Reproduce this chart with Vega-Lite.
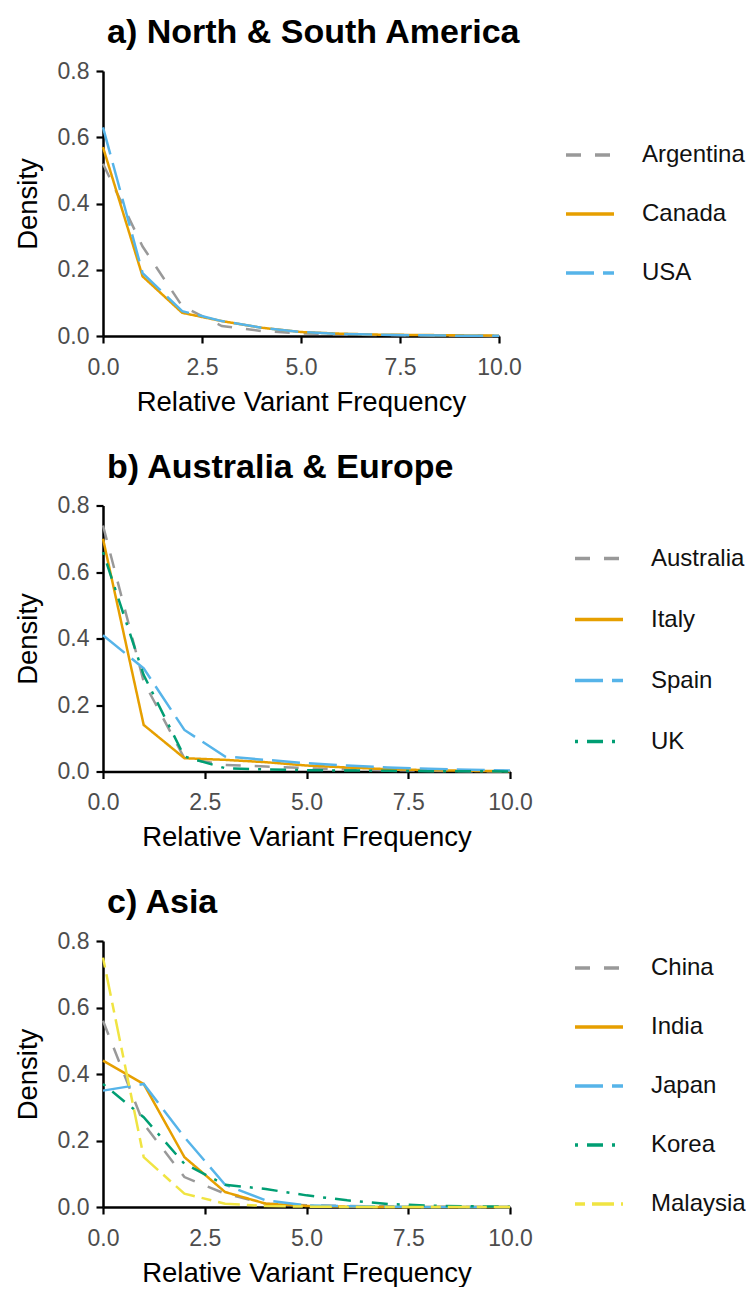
{
  "$schema": "https://vega.github.io/schema/vega-lite/v6.json",
  "background": "white",
  "padding": {"left": 14, "top": 16, "right": 0, "bottom": 0},
  "config": {
    "font": "Liberation Sans",
    "view": {"stroke": null},
    "title": {"font": "Liberation Sans", "fontSize": 34, "fontWeight": "bold", "anchor": "start", "frame": "group", "color": "#000000", "offset": 10, "dx": 4, "baseline": "alphabetic"},
    "axis": {
      "grid": false,
      "labelFlush": false,
      "domainColor": "#000000", "domainWidth": 2.5,
      "tickColor": "#000000", "tickWidth": 2.2, "tickSize": 7,
      "labelColor": "#4d4d4d", "labelFont": "Liberation Sans", "labelFontSize": 23,
      "titleFont": "Liberation Sans", "titleFontSize": 27.5, "titleFontWeight": "normal", "titleColor": "#000000"
    },
    "axisX": {"labelPadding": 13, "titlePadding": 9},
    "axisY": {"labelPadding": 7, "titlePadding": 15},
    "legend": {"labelFont": "Liberation Sans", "labelFontSize": 24, "labelColor": "#111111", "symbolSize": 2304, "symbolStrokeWidth": 3.5, "labelOffset": 26, "padding": 0, "symbolType": "stroke"}
  },
  "datasets": {
    "america": [
      {"country": "Argentina", "x": 0, "density": 0.52}, {"country": "Argentina", "x": 1, "density": 0.27}, {"country": "Argentina", "x": 2, "density": 0.09}, {"country": "Argentina", "x": 3, "density": 0.03}, {"country": "Argentina", "x": 4, "density": 0.015}, {"country": "Argentina", "x": 5, "density": 0.008}, {"country": "Argentina", "x": 6, "density": 0.005}, {"country": "Argentina", "x": 7, "density": 0.003}, {"country": "Argentina", "x": 8, "density": 0.002}, {"country": "Argentina", "x": 9, "density": 0.001}, {"country": "Argentina", "x": 10, "density": 0.0},
      {"country": "Canada", "x": 0, "density": 0.57}, {"country": "Canada", "x": 1, "density": 0.18}, {"country": "Canada", "x": 2, "density": 0.07}, {"country": "Canada", "x": 3, "density": 0.045}, {"country": "Canada", "x": 4, "density": 0.025}, {"country": "Canada", "x": 5, "density": 0.012}, {"country": "Canada", "x": 6, "density": 0.007}, {"country": "Canada", "x": 7, "density": 0.004}, {"country": "Canada", "x": 8, "density": 0.003}, {"country": "Canada", "x": 9, "density": 0.002}, {"country": "Canada", "x": 10, "density": 0.001},
      {"country": "USA", "x": 0, "density": 0.63}, {"country": "USA", "x": 1, "density": 0.19}, {"country": "USA", "x": 2, "density": 0.075}, {"country": "USA", "x": 3, "density": 0.045}, {"country": "USA", "x": 4, "density": 0.025}, {"country": "USA", "x": 5, "density": 0.012}, {"country": "USA", "x": 6, "density": 0.006}, {"country": "USA", "x": 7, "density": 0.004}, {"country": "USA", "x": 8, "density": 0.002}, {"country": "USA", "x": 9, "density": 0.001}, {"country": "USA", "x": 10, "density": 0.001}
    ],
    "europe": [
      {"country": "Australia", "x": 0, "density": 0.74}, {"country": "Australia", "x": 1, "density": 0.27}, {"country": "Australia", "x": 2, "density": 0.04}, {"country": "Australia", "x": 3, "density": 0.02}, {"country": "Australia", "x": 4, "density": 0.015}, {"country": "Australia", "x": 5, "density": 0.01}, {"country": "Australia", "x": 6, "density": 0.006}, {"country": "Australia", "x": 7, "density": 0.004}, {"country": "Australia", "x": 8, "density": 0.002}, {"country": "Australia", "x": 9, "density": 0.001}, {"country": "Australia", "x": 10, "density": 0.0},
      {"country": "Italy", "x": 0, "density": 0.70}, {"country": "Italy", "x": 1, "density": 0.14}, {"country": "Italy", "x": 2, "density": 0.04}, {"country": "Italy", "x": 3, "density": 0.035}, {"country": "Italy", "x": 4, "density": 0.028}, {"country": "Italy", "x": 5, "density": 0.018}, {"country": "Italy", "x": 6, "density": 0.012}, {"country": "Italy", "x": 7, "density": 0.007}, {"country": "Italy", "x": 8, "density": 0.004}, {"country": "Italy", "x": 9, "density": 0.002}, {"country": "Italy", "x": 10, "density": 0.001},
      {"country": "Spain", "x": 0, "density": 0.41}, {"country": "Spain", "x": 1, "density": 0.31}, {"country": "Spain", "x": 2, "density": 0.125}, {"country": "Spain", "x": 3, "density": 0.045}, {"country": "Spain", "x": 4, "density": 0.035}, {"country": "Spain", "x": 5, "density": 0.025}, {"country": "Spain", "x": 6, "density": 0.018}, {"country": "Spain", "x": 7, "density": 0.012}, {"country": "Spain", "x": 8, "density": 0.008}, {"country": "Spain", "x": 9, "density": 0.005}, {"country": "Spain", "x": 10, "density": 0.003},
      {"country": "UK", "x": 0, "density": 0.66}, {"country": "UK", "x": 1, "density": 0.29}, {"country": "UK", "x": 2, "density": 0.045}, {"country": "UK", "x": 3, "density": 0.01}, {"country": "UK", "x": 4, "density": 0.006}, {"country": "UK", "x": 5, "density": 0.004}, {"country": "UK", "x": 6, "density": 0.003}, {"country": "UK", "x": 7, "density": 0.002}, {"country": "UK", "x": 8, "density": 0.001}, {"country": "UK", "x": 9, "density": 0.001}, {"country": "UK", "x": 10, "density": 0.0}
    ],
    "asia": [
      {"country": "China", "x": 0, "density": 0.56}, {"country": "China", "x": 1, "density": 0.25}, {"country": "China", "x": 2, "density": 0.09}, {"country": "China", "x": 3, "density": 0.04}, {"country": "China", "x": 4, "density": 0.01}, {"country": "China", "x": 5, "density": 0.005}, {"country": "China", "x": 6, "density": 0.003}, {"country": "China", "x": 7, "density": 0.002}, {"country": "China", "x": 8, "density": 0.001}, {"country": "China", "x": 9, "density": 0.0}, {"country": "China", "x": 10, "density": 0.0},
      {"country": "India", "x": 0, "density": 0.44}, {"country": "India", "x": 1, "density": 0.37}, {"country": "India", "x": 2, "density": 0.15}, {"country": "India", "x": 3, "density": 0.045}, {"country": "India", "x": 4, "density": 0.01}, {"country": "India", "x": 5, "density": 0.003}, {"country": "India", "x": 6, "density": 0.001}, {"country": "India", "x": 7, "density": 0.0}, {"country": "India", "x": 8, "density": 0.0}, {"country": "India", "x": 9, "density": 0.0}, {"country": "India", "x": 10, "density": 0.0},
      {"country": "Japan", "x": 0, "density": 0.35}, {"country": "Japan", "x": 1, "density": 0.37}, {"country": "Japan", "x": 2, "density": 0.21}, {"country": "Japan", "x": 3, "density": 0.067}, {"country": "Japan", "x": 4, "density": 0.02}, {"country": "Japan", "x": 5, "density": 0.005}, {"country": "Japan", "x": 6, "density": 0.002}, {"country": "Japan", "x": 7, "density": 0.001}, {"country": "Japan", "x": 8, "density": 0.0}, {"country": "Japan", "x": 9, "density": 0.0}, {"country": "Japan", "x": 10, "density": 0.0},
      {"country": "Korea", "x": 0, "density": 0.37}, {"country": "Korea", "x": 1, "density": 0.27}, {"country": "Korea", "x": 2, "density": 0.13}, {"country": "Korea", "x": 3, "density": 0.067}, {"country": "Korea", "x": 4, "density": 0.054}, {"country": "Korea", "x": 5, "density": 0.035}, {"country": "Korea", "x": 6, "density": 0.02}, {"country": "Korea", "x": 7, "density": 0.009}, {"country": "Korea", "x": 8, "density": 0.004}, {"country": "Korea", "x": 9, "density": 0.002}, {"country": "Korea", "x": 10, "density": 0.001},
      {"country": "Malaysia", "x": 0, "density": 0.75}, {"country": "Malaysia", "x": 1, "density": 0.15}, {"country": "Malaysia", "x": 2, "density": 0.04}, {"country": "Malaysia", "x": 3, "density": 0.01}, {"country": "Malaysia", "x": 4, "density": 0.003}, {"country": "Malaysia", "x": 5, "density": 0.001}, {"country": "Malaysia", "x": 6, "density": 0.0}, {"country": "Malaysia", "x": 7, "density": 0.0}, {"country": "Malaysia", "x": 8, "density": 0.0}, {"country": "Malaysia", "x": 9, "density": 0.0}, {"country": "Malaysia", "x": 10, "density": 0.0}
    ]
  },
  "spacing": 34.5,
  "vconcat": [
    {
      "data": {"name": "america"},
      "title": {"text": "a) North & South America"},
      "width": 396, "height": 265,
      "mark": {"type": "line", "strokeWidth": 2.5},
      "encoding": {
        "x": {"field": "x", "type": "quantitative", "scale": {"domain": [0, 10], "nice": false}, "axis": {"values": [0, 2.5, 5, 7.5, 10], "format": ".1f", "title": "Relative Variant Frequency"}},
        "y": {"field": "density", "type": "quantitative", "scale": {"domain": [0, 0.8], "nice": false}, "axis": {"values": [0, 0.2, 0.4, 0.6, 0.8], "format": ".1f", "title": "Density"}},
        "color": {"field": "country", "type": "nominal", "scale": {"domain": ["Argentina", "Canada", "USA"], "range": ["#999999", "#E69F00", "#56B4E9"]}, "legend": {"title": null, "orient": "none", "legendX": 461, "legendY": 58, "rowPadding": 21}},
        "strokeDash": {"field": "country", "type": "nominal", "scale": {"domain": ["Argentina", "Canada", "USA"], "range": [[15, 14], [1, 0], [28, 9]]}, "legend": {"title": null, "orient": "none", "legendX": 461, "legendY": 58, "rowPadding": 21}}
      }
    },
    {
      "data": {"name": "europe"},
      "title": {"text": "b) Australia & Europe"},
      "width": 407, "height": 266,
      "mark": {"type": "line", "strokeWidth": 2.5},
      "encoding": {
        "x": {"field": "x", "type": "quantitative", "scale": {"domain": [0, 10], "nice": false}, "axis": {"values": [0, 2.5, 5, 7.5, 10], "format": ".1f", "title": "Relative Variant Frequency"}},
        "y": {"field": "density", "type": "quantitative", "scale": {"domain": [0, 0.8], "nice": false}, "axis": {"values": [0, 0.2, 0.4, 0.6, 0.8], "format": ".1f", "title": "Density"}},
        "color": {"field": "country", "type": "nominal", "scale": {"domain": ["Australia", "Italy", "Spain", "UK"], "range": ["#999999", "#E69F00", "#56B4E9", "#009E73"]}, "legend": {"title": null, "orient": "none", "legendX": 470, "legendY": 27, "rowPadding": 23}},
        "strokeDash": {"field": "country", "type": "nominal", "scale": {"domain": ["Australia", "Italy", "Spain", "UK"], "range": [[15, 14], [1, 0], [28, 9], [3, 9, 16, 9]]}, "legend": {"title": null, "orient": "none", "legendX": 470, "legendY": 27, "rowPadding": 23}}
      }
    },
    {
      "data": {"name": "asia"},
      "title": {"text": "c) Asia"},
      "width": 407, "height": 266,
      "mark": {"type": "line", "strokeWidth": 2.5},
      "encoding": {
        "x": {"field": "x", "type": "quantitative", "scale": {"domain": [0, 10], "nice": false}, "axis": {"values": [0, 2.5, 5, 7.5, 10], "format": ".1f", "title": "Relative Variant Frequency"}},
        "y": {"field": "density", "type": "quantitative", "scale": {"domain": [0, 0.8], "nice": false}, "axis": {"values": [0, 0.2, 0.4, 0.6, 0.8], "format": ".1f", "title": "Density"}},
        "color": {"field": "country", "type": "nominal", "scale": {"domain": ["China", "India", "Japan", "Korea", "Malaysia"], "range": ["#999999", "#E69F00", "#56B4E9", "#009E73", "#F0E442"]}, "legend": {"title": null, "orient": "none", "legendX": 470, "legendY": 1, "rowPadding": 21}},
        "strokeDash": {"field": "country", "type": "nominal", "scale": {"domain": ["China", "India", "Japan", "Korea", "Malaysia"], "range": [[15, 14], [1, 0], [28, 9], [3, 9, 16, 9], [10, 7, 22, 7]]}, "legend": {"title": null, "orient": "none", "legendX": 470, "legendY": 1, "rowPadding": 21}}
      }
    }
  ],
  "resolve": {"scale": {"color": "independent", "strokeDash": "independent"}, "legend": {"color": "independent", "strokeDash": "independent"}}
}
